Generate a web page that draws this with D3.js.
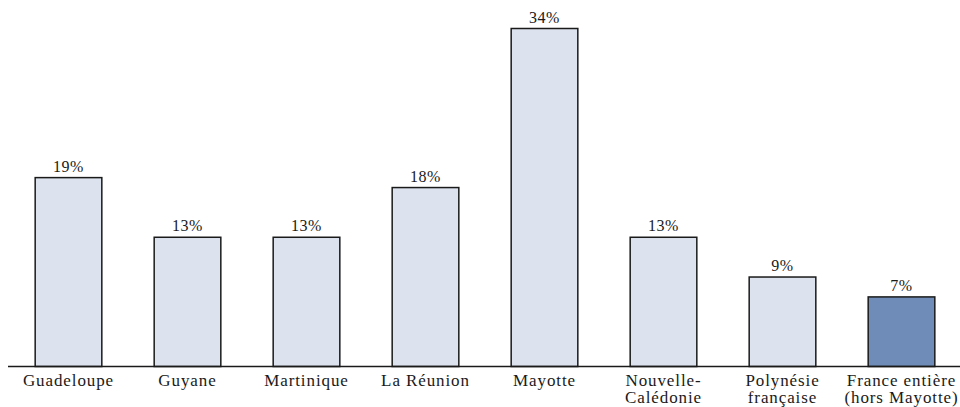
<!DOCTYPE html>
<html>
<head>
<meta charset="utf-8">
<script src="https://cdn.jsdelivr.net/npm/d3@7"></script>
<style>
  body { margin: 0; background: #fff; }
</style>
</head>
<body>
<svg id="chart" width="960" height="407"></svg>
<script>
// territoires et parts
var categories = [
  ['Guadeloupe'], ['Guyane'], ['Martinique'], ['La Réunion'], ['Mayotte'],
  ['Nouvelle-', 'Calédonie'], ['Polynésie', 'française'], ['France entière', '(hors Mayotte)']
];
var values = [19, 13, 13, 18, 34, 13, 9, 7];
var highlight = [false, false, false, false, false, false, false, true];

var svg = d3.select('#chart');
var baseY = 366.5;
var font = '"Liberation Serif", "Noto Serif", serif';

var x = d3.scaleBand()
  .domain(d3.range(categories.length))
  .range([9, 961])
  .paddingInner(0.44)
  .paddingOuter(0.22);

var y = d3.scaleLinear().domain([0, 34]).range([baseY, 28.5]);

var bars = svg.selectAll('g.bar').data(values).enter().append('g').attr('class', 'bar');

bars.append('rect')
  .attr('x', function(d, i) { return x(i); })
  .attr('y', function(d) { return y(d); })
  .attr('width', x.bandwidth())
  .attr('height', function(d) { return baseY - y(d); })
  .attr('fill', function(d, i) { return highlight[i] ? '#6f8cb8' : '#dde3ee'; })
  .attr('stroke', '#1a1a1a')
  .attr('stroke-width', 1.5);

bars.append('text')
  .attr('x', function(d, i) { return x(i) + x.bandwidth() / 2; })
  .attr('y', function(d) { return y(d) - 6; })
  .attr('text-anchor', 'middle')
  .attr('font-family', font)
  .attr('font-size', 16)
  .attr('letter-spacing', 0.5)
  .attr('fill', '#1a1a1a')
  .text(function(d) { return d + '%'; });

svg.append('line')
  .attr('x1', 8).attr('x2', 960)
  .attr('y1', baseY).attr('y2', baseY)
  .attr('stroke', '#1a1a1a').attr('stroke-width', 1.5);

var labels = svg.selectAll('text.cat').data(categories).enter().append('text')
  .attr('class', 'cat')
  .attr('text-anchor', 'middle')
  .attr('font-family', font)
  .attr('font-size', 17)
  .attr('letter-spacing', 0.9)
  .attr('fill', '#1a1a1a')
  .attr('x', function(d, i) { return x(i) + x.bandwidth() / 2; })
  .attr('y', 386);

labels.selectAll('tspan').data(function(d) { return d; }).enter().append('tspan')
  .attr('x', function() { return d3.select(this.parentNode).attr('x'); })
  .attr('dy', function(d, i) { return i ? 17 : 0; })
  .text(function(d) { return d; });
</script>
</body>
</html>
